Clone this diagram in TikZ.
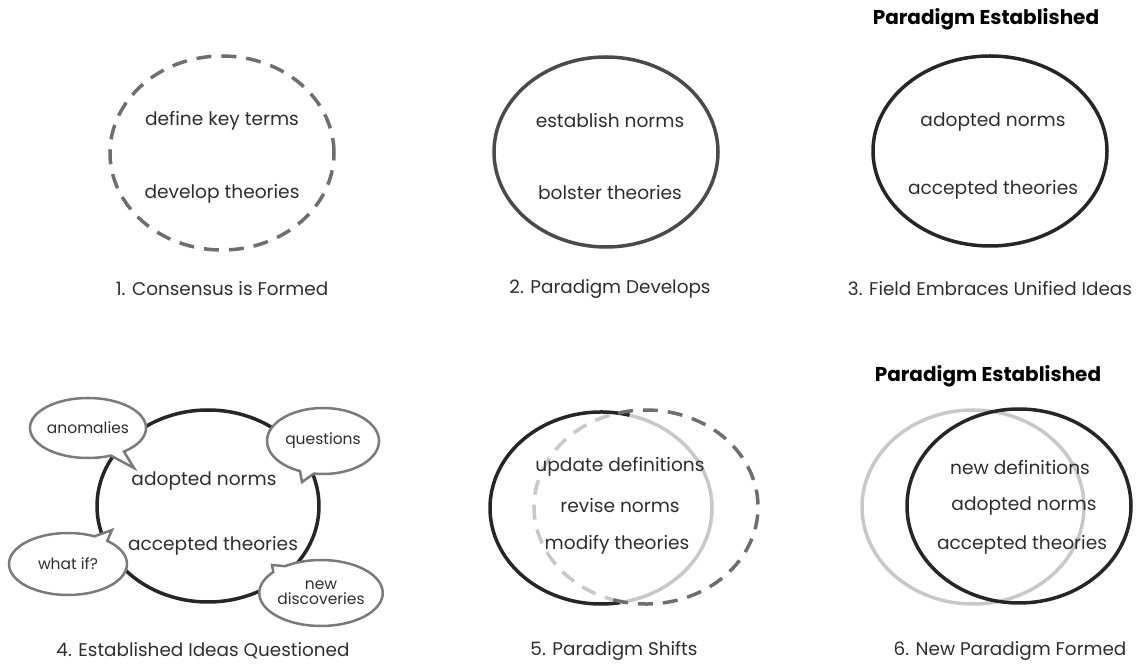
\documentclass[tikz,border=0pt]{standalone}
\usepackage{fontspec}
\setmainfont{Poppins}
\usetikzlibrary{shapes.callouts}
\definecolor{inkgray}{HTML}{2E2E2E}
\definecolor{darkring}{HTML}{262626}
\definecolor{midring}{HTML}{4A4A4A}
\definecolor{dashgray}{HTML}{6E6E6E}
\definecolor{palegray}{HTML}{C8C8C8}
\definecolor{bubblegray}{HTML}{7A7A7A}
\tikzset{
  idea/.style={text=inkgray, font=\fontsize{18.6}{20}\selectfont},
  caption/.style={text=inkgray, font=\fontsize{18.4}{20}\selectfont},
  headline/.style={text=black, font=\bfseries\fontsize{20}{22}\selectfont},
  bubble/.style={ellipse callout, draw=bubblegray, line width=2.5pt, fill=white,
    text=inkgray, font=\fontsize{15.5}{17}\selectfont, inner sep=0pt, align=center},
  dashring/.style={line width=3.5pt, dash pattern=on 15pt off 10pt},
  ring/.style={line width=3.5pt}
}
\begin{document}
\begin{tikzpicture}[x=1pt, y=1pt]
\useasboundingbox (0,0) rectangle (1141,664);
% 1. consensus
\coordinate (c1) at (222,511);
\draw[dashring, dashgray] (c1) ellipse[x radius=112, y radius=97];
\node[idea] (t1a) at (222,543) {define key terms};
\node[idea] (t1b) at (222,470) {develop theories};
\node[caption] (cap1) at (222,375) {1. Consensus is Formed};
% 2. paradigm develops
\coordinate (c2) at (606,512);
\draw[ring, midring] (c2) ellipse[x radius=112, y radius=95];
\node[idea] (t2a) at (610,543) {establish norms};
\node[idea] (t2b) at (610,471) {bolster theories};
\node[caption] (cap2) at (610,375) {2. Paradigm Develops};
% 3. field embraces
\coordinate (c3) at (990,513);
\draw[ring, darkring] (c3) ellipse[x radius=117, y radius=95];
\node[headline] (head3) at (986,645) {Paradigm Established};
\node[idea] (t3a) at (993,542) {adopted norms};
\node[idea] (t3b) at (993,474) {accepted theories};
\node[caption] (cap3) at (990,375) {3. Field Embraces Unified Ideas};
% 4. ideas questioned
\coordinate (c4) at (208,158);
\draw[ring, darkring] (c4) ellipse[x radius=111, y radius=96];
\node[idea] (t4a) at (204,183) {adopted norms};
\node[idea] (t4b) at (213,118) {accepted theories};
\node[bubble, minimum width=104, minimum height=60, callout absolute pointer={(134,196)}] (anom) at (88,236) {anomalies};
\node[bubble, minimum width=112, minimum height=66, callout absolute pointer={(302,182)}] (quest) at (323,223) {questions};
\node[bubble, minimum width=118, minimum height=62, callout absolute pointer={(112,134)}] (whatif) at (68,100) {what if?};
\node[bubble, minimum width=118, minimum height=66, callout absolute pointer={(272,99)}] (newdisc) at (321,71) {new\\[-2pt]discoveries};
\node[caption] (cap4) at (203,13) {4. Established Ideas Questioned};
% 5. paradigm shifts
\coordinate (c5) at (601,156);
\coordinate (d5) at (646,157);
\draw[ring, darkring] (c5) ++(75:111 and 96) arc[start angle=75, end angle=280, x radius=111, y radius=96];
\draw[ring, palegray] (c5) ++(-80:111 and 96) arc[start angle=-80, end angle=75, x radius=111, y radius=96];
\draw[dashring, palegray] (d5) ++(109:112 and 97) arc[start angle=109, end angle=253, x radius=112, y radius=97];
\draw[dashring, dashgray] (d5) ++(-107:112 and 97) arc[start angle=-107, end angle=109, x radius=112, y radius=97];
\node[idea] (t5a) at (620,197) {update definitions};
\node[idea] (t5b) at (620,158) {revise norms};
\node[idea] (t5c) at (617,119) {modify theories};
\node[caption] (cap5) at (614,13) {5. Paradigm Shifts};
% 6. new paradigm
\coordinate (c6) at (973,157);
\coordinate (d6) at (1019,158);
\draw[ring, palegray] (c6) ellipse[x radius=111, y radius=97];
\draw[ring, darkring] (d6) ellipse[x radius=112, y radius=97];
\node[headline] (head6) at (988,288) {Paradigm Established};
\node[idea] (t6a) at (1020,197) {new definitions};
\node[idea] (t6b) at (1024,158) {adopted norms};
\node[idea] (t6c) at (1022,119) {accepted theories};
\node[caption] (cap6) at (1010,13) {6. New Paradigm Formed};
\end{tikzpicture}
\end{document}
